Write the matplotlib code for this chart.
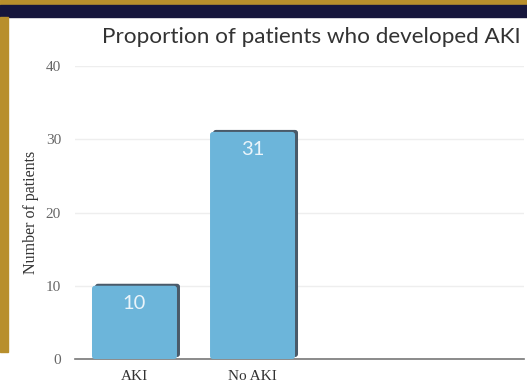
import matplotlib
matplotlib.use("Agg")
import matplotlib.pyplot as plt
from matplotlib.patches import FancyBboxPatch, Rectangle
from matplotlib.transforms import offset_copy

categories = ["AKI", "No AKI"]
patients = [10, 31]
yticks = [0, 10, 20, 30, 40]

W, H = 527, 392
fig = plt.figure(figsize=(W / 100, H / 100), dpi=100)
fig.patch.set_facecolor("white")

# frame pieces around the slide
fig.add_artist(Rectangle((0, 1 - 5 / H), 1, 5 / H, transform=fig.transFigure, color="#B88F2C", zorder=0))
fig.add_artist(Rectangle((0, 1 - 17 / H), 1, 12 / H, transform=fig.transFigure, color="#16163C", zorder=0))
fig.add_artist(Rectangle((0, 1 - 352 / H), 8 / W, (352 - 17) / H, transform=fig.transFigure, color="#B88F2C", zorder=0))

ax = fig.add_axes([75 / W, 1 - 359 / H, (524 - 75) / W, (359 - 66) / H])
ax.set_facecolor("none")
x = list(range(len(categories)))
ax.set_xlim(-0.504, 3.30)
ax.set_ylim(0, 40)

bars = ax.bar(x, patients, width=0.72, color="none", edgecolor="none")
shadow_tr = offset_copy(ax.transData, fig=fig, x=3, y=2, units="dots")
for b, v in zip(bars, patients):
    bx, by, bw, bh = b.get_x(), b.get_y(), b.get_width(), b.get_height()
    for tr, col, z in [(shadow_tr, "#4A5A69", 2), (ax.transData, "#6CB5DA", 3)]:
        p = FancyBboxPatch((bx, by), bw, bh, boxstyle="round,pad=0,rounding_size=0.025",
                           mutation_aspect=16, transform=tr, facecolor=col, edgecolor="none", zorder=z)
        ax.add_patch(p)
    ax.annotate(str(v), (bx + bw / 2, v), xytext=(0, -12.5), textcoords="offset points",
                ha="center", va="center", color="#EAF4FA", fontsize=14.5, family="Lato", zorder=4)

ax.set_yticks(yticks)
ax.set_xticks(x)
ax.set_xticklabels(categories, family="Liberation Serif", fontsize=11, color="#333333")
ax.tick_params(axis="y", length=0, pad=10, labelsize=11, labelcolor="#666666")
ax.tick_params(axis="x", length=0, pad=8)
for lab in ax.get_yticklabels():
    lab.set_family("Liberation Serif")
ax.yaxis.grid(True, color="#EEEEEE", linewidth=1)
ax.set_axisbelow(True)
for s in ["top", "right", "left"]:
    ax.spines[s].set_visible(False)
ax.spines["bottom"].set_color("#777777")
ax.spines["bottom"].set_linewidth(1.2)

ax.set_ylabel("Number of patients", family="Liberation Serif", fontsize=11.5, color="#333333", labelpad=5)
fig.text(311 / W, 1 - 37 / H, "Proportion of patients who developed AKI", ha="center", va="center",
         family="Lato", fontsize=16.2, color="#333333")

fig.savefig("out.png", dpi=100)
